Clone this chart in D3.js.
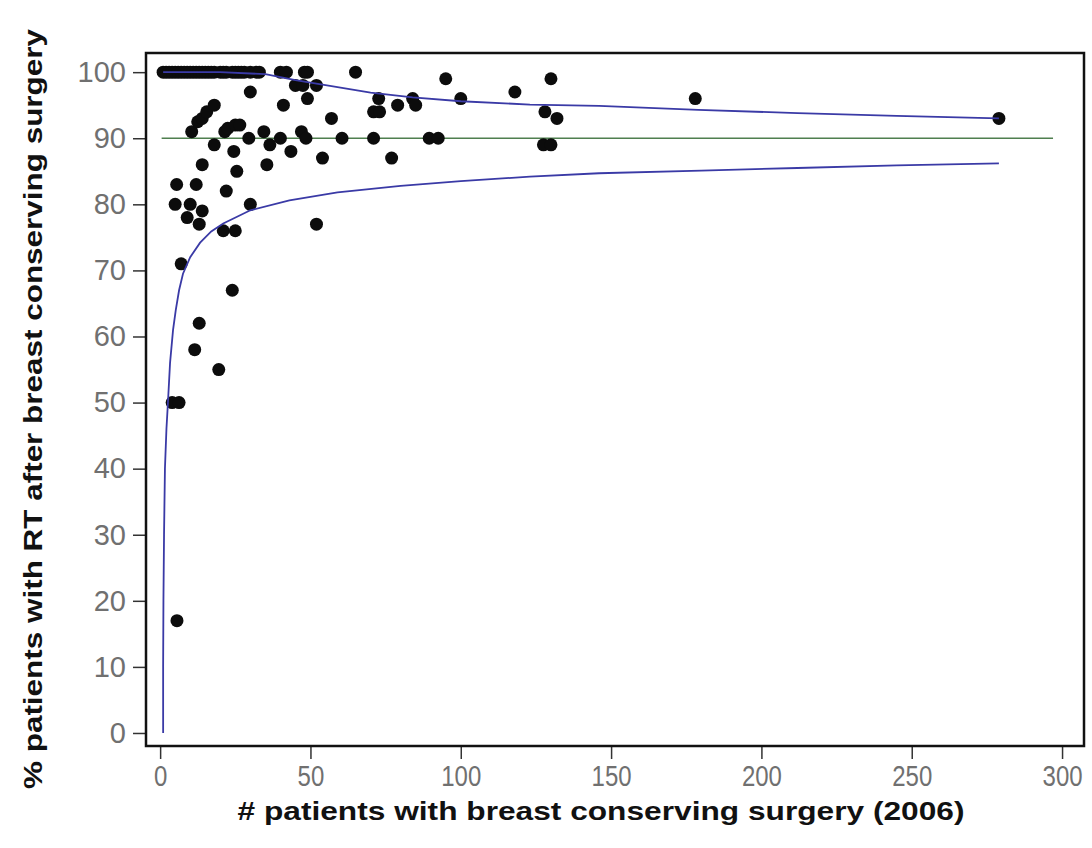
<!DOCTYPE html>
<html>
<head>
<meta charset="utf-8">
<script src="https://cdn.jsdelivr.net/npm/d3@7"></script>
<style>
  html, body { margin: 0; padding: 0; background: #fff; }
  svg { display: block; }
</style>
</head>
<body>
<svg id="chart" width="1092" height="848"></svg>
<script>
// Hospitals: number of breast conserving surgeries (2006) and % followed by radiotherapy
const hospitalN = [
  1,2,3,4,5,6,7,8,9,10,11,12,13,14,15,16,17,18,20,21,22,24,25,26,27,28,30,32,33,40,42,48,49,65,
  30,41,45,47.5,52,49,57,72.7,71,73,79,84,85,95,100,118,128,130,132,178,279,
  10.5,12.5,14,15.5,18,21.5,22.5,25,26.5,34.5,47,18,29.5,36.5,40,48.5,60.5,71,89.5,92.5,127.5,130,
  24.5,43.5,54,77,14,25.5,35.5,
  5.5,12,22,5,10,30,14,9,13,21,25,52,7,24,13,11.5,19.5,4,6.3,5.6
];
const rtPercent = [
  100,100,100,100,100,100,100,100,100,100,100,100,100,100,100,100,100,100,100,100,100,100,100,100,100,100,100,100,100,100,100,100,100,100,
  97,95,98,98,98,96,93,96,94,94,95,96,95,99,96,97,94,99,93,96,93,
  91,92.5,93,94,95,91,91.5,92,92,91,91,89,90,89,90,90,90,90,90,90,89,89,
  88,88,87,87,86,85,86,
  83,83,82,80,80,80,79,78,77,76,76,77,71,67,62,58,55,50,50,17
];

// Control limits around the 90% target
const targetPct = 90;
const targetRange = [0.5, 297];
const lowerLimit = [
  [1,0],[1,10],[1.1,20],[1.3,30],[1.6,40],[2.1,46],[2.6,50],[3.3,56],[4.3,61],[5.2,64],
  [6.3,67],[7.6,69.5],[10,72],[13.3,74.2],[17,75.9],[21,77.1],[30,79.1],[43,80.6],[59,81.8],
  [80,82.8],[100,83.5],[123,84.2],[146,84.7],[180,85.1],[212,85.5],[245,85.9],[279,86.2]
];
const upperLimit = [
  [1,100],[20,100],[35,99.7],[45,98.8],[57,97.9],[70,96.9],[84,96.2],[100,95.6],[123,95.1],
  [146,94.9],[179,94.3],[212,93.8],[245,93.4],[279,93.0]
];

const xTicks = [0,50,100,150,200,250,300];
const yTicks = [0,10,20,30,40,50,60,70,80,90,100];

const svg = d3.select("#chart");
const frame = {left: 146, top: 53, right: 1084, bottom: 746};

const x = d3.scaleLinear().domain([-4.7, 307.3]).range([frame.left, frame.right]);
const y = d3.scaleLinear().domain([-1.97, 102.9]).range([frame.bottom, frame.top]);

svg.append("rect").attr("width", 1092).attr("height", 848).attr("fill", "#fff");

// Axes
const xAxis = svg.append("g")
  .attr("transform", `translate(0,${frame.bottom})`)
  .call(d3.axisBottom(x).tickValues(xTicks).tickSize(13).tickPadding(6));
xAxis.select(".domain").remove();
xAxis.selectAll("line").attr("stroke", "#333").attr("stroke-width", 1.5);
xAxis.selectAll("text")
  .attr("font-family", "Liberation Sans, Arial, sans-serif")
  .attr("font-size", 30)
  .attr("fill", "#707070")
  .attr("transform", "scale(0.8,1)");

const yAxis = svg.append("g")
  .attr("transform", `translate(${frame.left},0)`)
  .call(d3.axisLeft(y).tickValues(yTicks).tickSize(13).tickPadding(7));
yAxis.select(".domain").remove();
yAxis.selectAll("line").attr("stroke", "#333").attr("stroke-width", 1.5);
yAxis.selectAll("text")
  .attr("font-family", "Liberation Sans, Arial, sans-serif")
  .attr("font-size", 29)
  .attr("fill", "#707070");

// Plot frame
svg.append("rect")
  .attr("x", frame.left).attr("y", frame.top)
  .attr("width", frame.right - frame.left).attr("height", frame.bottom - frame.top)
  .attr("fill", "none").attr("stroke", "#111").attr("stroke-width", 2.5);

// Target line
svg.append("line")
  .attr("x1", x(targetRange[0])).attr("x2", x(targetRange[1]))
  .attr("y1", y(targetPct)).attr("y2", y(targetPct))
  .attr("stroke", "#4f7f4f").attr("stroke-width", 1.6);

// Hospitals
const pts = hospitalN.map((n, i) => ({n, p: rtPercent[i]}));
svg.append("g").selectAll("circle").data(pts).join("circle")
  .attr("cx", d => x(d.n)).attr("cy", d => y(d.p))
  .attr("r", 6.5).attr("fill", "#0c0c0c");

// Control limit curves
const line = d3.line().x(d => x(d[0])).y(d => y(d[1])).curve(d3.curveLinear);
[lowerLimit, upperLimit].forEach(curve => {
  svg.append("path").attr("d", line(curve))
    .attr("fill", "none").attr("stroke", "#3a3aa6").attr("stroke-width", 1.8);
});

// Axis titles
svg.append("text")
  .attr("x", 601).attr("y", 820)
  .attr("text-anchor", "middle")
  .attr("font-family", "Liberation Sans, Arial, sans-serif")
  .attr("font-weight", "bold").attr("font-size", 26)
  .attr("textLength", 727).attr("lengthAdjust", "spacingAndGlyphs")
  .attr("fill", "#111")
  .text("# patients with breast conserving surgery (2006)");

svg.append("text")
  .attr("transform", "translate(42,409) rotate(-90)")
  .attr("text-anchor", "middle")
  .attr("font-family", "Liberation Sans, Arial, sans-serif")
  .attr("font-weight", "bold").attr("font-size", 26)
  .attr("textLength", 760).attr("lengthAdjust", "spacingAndGlyphs")
  .attr("fill", "#111")
  .text("% patients with RT after breast conserving surgery");
</script>
</body>
</html>
